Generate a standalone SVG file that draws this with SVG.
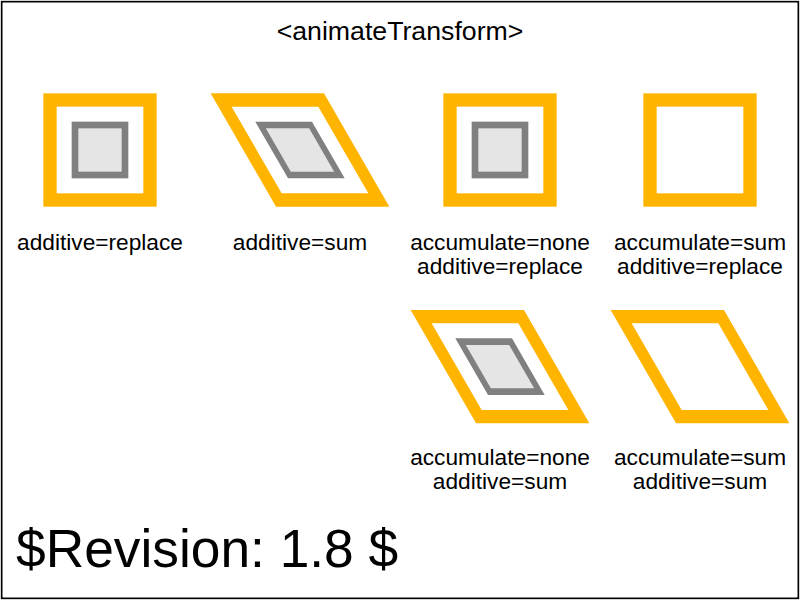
<svg xmlns="http://www.w3.org/2000/svg" width="800" height="600" viewBox="0 0 800 600">
  <style>
    .outer { fill: none; stroke: #ffb400; stroke-width: 13.33; }
    .inner { fill: #e5e5e5; stroke: #808080; stroke-width: 6.67; }
    .lbl { font-family: "Liberation Sans", Arial, Helvetica, sans-serif; font-size: 22.7px; fill: #000; text-anchor: middle; }
    .title { font-family: "Liberation Sans", Arial, Helvetica, sans-serif; font-size: 26.7px; fill: #000; text-anchor: middle; }
    .rev { font-family: "Liberation Sans", Arial, Helvetica, sans-serif; font-size: 53.3px; fill: #000; }
  </style>
  <rect x="0" y="0" width="800" height="600" fill="#fff"/>
  <text class="title" x="400" y="40">&lt;animateTransform&gt;</text>

  <g id="replace">
    <rect class="outer" x="50" y="100" width="100" height="100"/>
    <rect class="inner" x="75" y="125" width="50" height="50"/>
    <text class="lbl" x="100" y="249.5">additive=replace</text>
  </g>

  <g id="sum">
    <g transform="translate(0,150) skewX(30) translate(0,-150)">
      <rect class="outer" x="250" y="100" width="100" height="100"/>
      <rect class="inner" x="275" y="125" width="50" height="50"/>
    </g>
    <text class="lbl" x="300" y="249.5">additive=sum</text>
  </g>

  <g id="acc-none-replace">
    <rect class="outer" x="450" y="100" width="100" height="100"/>
    <rect class="inner" x="475" y="125" width="50" height="50"/>
    <text class="lbl" x="500" y="249.5">accumulate=none</text>
    <text class="lbl" x="500" y="273.5">additive=replace</text>
  </g>

  <g id="acc-sum-replace">
    <rect class="outer" x="650" y="100" width="100" height="100"/>
    <text class="lbl" x="700" y="249.5">accumulate=sum</text>
    <text class="lbl" x="700" y="273.5">additive=replace</text>
  </g>

  <g id="acc-none-sum">
    <g transform="translate(0,366.67) skewX(30) translate(0,-366.67)">
      <rect class="outer" x="450" y="316.67" width="100" height="100"/>
      <rect class="inner" x="475" y="341.67" width="50" height="50"/>
    </g>
    <text class="lbl" x="500" y="464.5">accumulate=none</text>
    <text class="lbl" x="500" y="488.5">additive=sum</text>
  </g>

  <g id="acc-sum-sum">
    <g transform="translate(0,366.67) skewX(30) translate(0,-366.67)">
      <rect class="outer" x="650" y="316.67" width="100" height="100"/>
    </g>
    <text class="lbl" x="700" y="464.5">accumulate=sum</text>
    <text class="lbl" x="700" y="488.5">additive=sum</text>
  </g>

  <text class="rev" x="16" y="567">$Revision: 1.8 $</text>
  <rect x="1.67" y="1.67" width="796.67" height="596.67" fill="none" stroke="#000" stroke-width="1.67"/>
</svg>
